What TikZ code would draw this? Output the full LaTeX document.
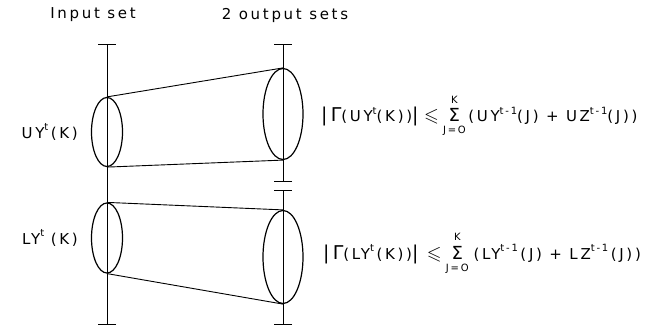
\documentclass[tikz,border=0pt]{standalone}
\usepackage{amsmath}
\usepackage{amssymb}
\usepackage{fontspec}
\setmainfont{DejaVu Sans}[LetterSpace=18]
\usetikzlibrary{shapes.geometric, arrows.meta}
\tikzset{
  setline/.style={line width=0.9pt,
                  {Bar[width=18pt, line width=0.9pt]}-{Bar[width=18pt, line width=0.9pt]}},
  setoval/.style={draw, ellipse, line width=1.2pt, inner sep=0pt},
  link/.style={line width=0.9pt},
  lbl/.style={font=\fontsize{15}{17}\selectfont, inner sep=0pt},
  bound/.style={lbl, anchor=base west}
}
\newcommand{\up}[1]{\raisebox{0.95ex}{\fontsize{10}{10}\selectfont #1}}
\newcommand{\bigG}[1]{{\fontsize{19}{19}\selectfont #1}}
\newcommand{\leqs}{\,{\fontsize{19}{19}\selectfont$\leqslant$}\;}
\newcommand{\limtxt}[1]{\text{\fontsize{10}{10}\selectfont #1}}
\newcommand{\sumjk}{\ensuremath{\mathop{\text{\fontsize{18}{18}\selectfont Σ}}\limits_{\raisebox{-3pt}{\limtxt{J=O}}}^{\raisebox{2pt}{\limtxt{K}}}}}

\begin{document}
\begin{tikzpicture}[x=1pt, y=-1pt]
  \useasboundingbox (0,0) rectangle (646,334);

  % ----- column titles -----
  \node[lbl] (intitle)  at (93,15)  {Input set};
  \node[lbl] (outtitle) at (285,15) {2 output sets};

  % ----- vertical set lines -----
  \coordinate (intop)   at (107,44);
  \coordinate (inbot)   at (107,325);
  \coordinate (outtop)  at (283,44);
  \coordinate (outbrkA) at (283,182);
  \coordinate (outbrkB) at (283,190);
  \coordinate (outbot)  at (283,325);
  \draw[setline] (intop) -- (inbot);
  \draw[setline] (outtop) -- (outbrkA);
  \draw[setline] (outbrkB) -- (outbot);

  % ----- subsets -----
  \node[setoval, minimum width=31pt, minimum height=69pt] (uin)  at (107,132) {};
  \node[setoval, minimum width=31pt, minimum height=70pt] (lin)  at (107,238) {};
  \node[setoval, minimum width=40pt, minimum height=91pt] (uout) at (283,114) {};
  \node[setoval, minimum width=40pt, minimum height=93pt] (lout) at (283,257) {};

  % ----- images -----
  \draw[link] (uin.north) -- (uout.north);
  \draw[link] (uin.south) -- (uout.south);
  \draw[link] (lin.north) -- (lout.north);
  \draw[link] (lin.south) -- (lout.south);

  % ----- labels -----
  \node[lbl, anchor=east] (ulbl) at (78,132) {UY\up{t}\,(K)};
  \node[lbl, anchor=east] (llbl) at (78,238) {LY\up{t}\;\,(K)};

  \node[bound] (ubound) at (321,122)
    {\bigG{|\,Γ}(UY\up{t}(K))\bigG{|}\hspace{3pt}\leqs\sumjk\,(UY\up{t-1}(J) + UZ\up{t-1}(J))};
  \node[bound] (lbound) at (323,259)
    {\bigG{|\,Γ}(LY\up{t}\,(K))\bigG{|}\hspace{6pt}\leqs\sumjk\hspace{5pt}(LY\up{t-1}\,(J) + LZ\up{t-1}\,(J))};
\end{tikzpicture}
\end{document}
